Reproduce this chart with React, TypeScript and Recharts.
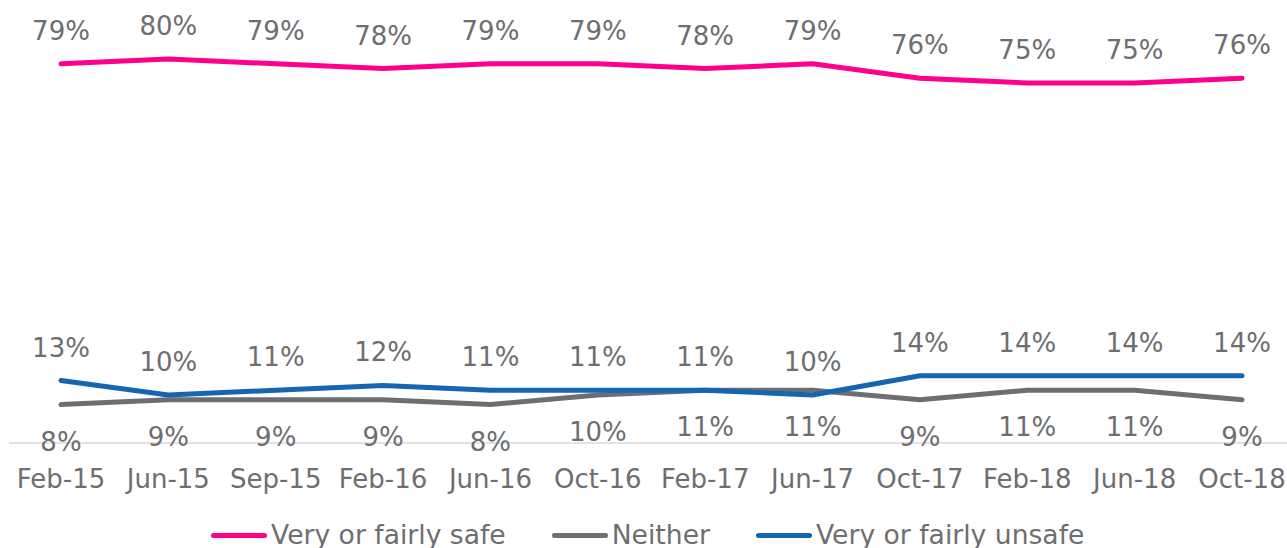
import React from 'react';
import { LineChart, Line, XAxis, YAxis, Legend, LabelList } from 'recharts';

const months = ['Feb-15', 'Jun-15', 'Sep-15', 'Feb-16', 'Jun-16', 'Oct-16', 'Feb-17', 'Jun-17', 'Oct-17', 'Feb-18', 'Jun-18', 'Oct-18'];
const safe = [79, 80, 79, 78, 79, 79, 78, 79, 76, 75, 75, 76];
const neither = [8, 9, 9, 9, 8, 10, 11, 11, 9, 11, 11, 9];
const unsafe = [13, 10, 11, 12, 11, 11, 11, 10, 14, 14, 14, 14];

const data = months.map((m, i) => ({
  month: m,
  safe: safe[i],
  neither: neither[i],
  unsafe: unsafe[i],
}));

const TEXT = '#6e6e70';
const FONT = '"DejaVu Sans", Verdana, sans-serif';

const series = [
  { key: 'safe', name: 'Very or fairly safe', color: '#ff008c', below: false },
  { key: 'neither', name: 'Neither', color: '#6d6e71', below: true },
  { key: 'unsafe', name: 'Very or fairly unsafe', color: '#1565b1', below: false },
];

const makeLabel = (below: boolean) => (props: any) => {
  const { x, y, value } = props;
  return (
    <text
      x={x}
      y={below ? y + 46 : y - 24}
      textAnchor="middle"
      fill={TEXT}
      fontSize={26}
      fontFamily={FONT}
    >
      {value}%
    </text>
  );
};

const LegendContent = () => (
  <div style={{ display: 'flex', alignItems: 'center', marginLeft: 211, fontFamily: FONT, fontSize: 26.6, color: TEXT }}>
    {series.map((s, i) => (
      <div key={s.key} style={{ display: 'flex', alignItems: 'center', marginLeft: i === 0 ? 0 : 46 }}>
        <div style={{ width: 56, height: 5, borderRadius: 3, background: s.color, marginRight: 4 }} />
        <span style={{ whiteSpace: 'nowrap', lineHeight: '38px' }}>{s.name}</span>
      </div>
    ))}
  </div>
);

export default function App() {
  return (
    <div style={{ position: 'absolute', left: 0, top: 0, background: '#fff' }}>
      <LineChart width={1287} height={548} data={data} margin={{ top: 11, right: 0, bottom: 45, left: 9 }}>
        <XAxis
          dataKey="month"
          axisLine={{ stroke: '#d9d9d9', strokeWidth: 1.5 }}
          tickLine={false}
          tickSize={0}
          tickMargin={26.5}
          height={60}
          interval={0}
          padding={{ left: 52, right: 45 }}
          tick={{ fill: TEXT, fontSize: 26, fontFamily: FONT }}
        />
        <YAxis hide domain={[0, 90]} />
        <Legend
          layout="horizontal"
          verticalAlign="middle"
          align="center"
          wrapperStyle={{ top: 516, left: 0, width: 1287 }}
          content={<LegendContent />}
        />
        {series.map((s) => (
          <Line
            key={s.key}
            dataKey={s.key}
            name={s.name}
            stroke={s.color}
            strokeWidth={5}
            strokeLinecap="round"
            strokeLinejoin="round"
            dot={false}
            activeDot={false}
            isAnimationActive={false}
            type="linear"
          >
            <LabelList dataKey={s.key} content={makeLabel(s.below)} />
          </Line>
        ))}
      </LineChart>
    </div>
  );
}
